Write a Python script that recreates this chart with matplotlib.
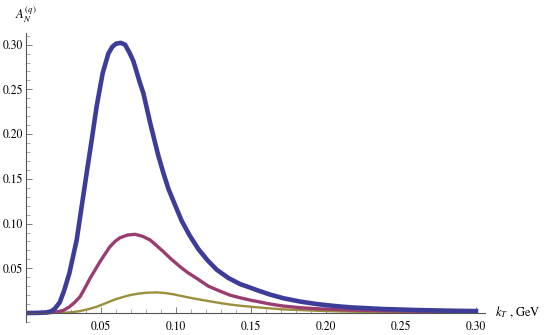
import numpy as np
import matplotlib
matplotlib.use('Agg')
import matplotlib.pyplot as plt
from matplotlib.ticker import MultipleLocator

plt.rcParams['font.family'] = ['STIXGeneral', 'Liberation Serif', 'DejaVu Serif']
plt.rcParams['mathtext.fontset'] = 'stix'

# blue curve (largest)
kt_blue = [0, 0.010, 0.0140, 0.0171, 0.0193, 0.0225, 0.0253, 0.0289, 0.0338, 0.0371, 0.0404,
           0.0438, 0.0471, 0.0511, 0.0549, 0.0575, 0.0600, 0.0631, 0.0660, 0.0690,
           0.0716, 0.0760, 0.0782, 0.0804, 0.0827, 0.0855, 0.0882, 0.0915, 0.0949,
           0.0993, 0.1038, 0.109, 0.1149, 0.1210, 0.1271, 0.1349, 0.1427, 0.149,
           0.1538, 0.163, 0.172, 0.183, 0.194, 0.205, 0.216, 0.238, 0.260, 0.283, 0.300]
a_blue = [0, 0.0003, 0.0008, 0.0022, 0.005, 0.012, 0.0245, 0.0444, 0.0817, 0.119, 0.156,
          0.1935, 0.231, 0.268, 0.290, 0.2975, 0.301, 0.302, 0.300, 0.291,
          0.2815, 0.257, 0.246, 0.230, 0.213, 0.194, 0.176, 0.157, 0.139,
          0.121, 0.103, 0.087, 0.0715, 0.059, 0.0485, 0.0392, 0.0324, 0.0287,
          0.0257, 0.0205, 0.0164, 0.0128, 0.010, 0.008, 0.0064, 0.0045, 0.0034, 0.0026, 0.0022]

# purple curve
kt_purple = [0, 0.015, 0.020, 0.025, 0.029, 0.0325, 0.036, 0.0393, 0.0427, 0.046,
             0.0493, 0.0527, 0.056, 0.0593, 0.0627, 0.0677, 0.0727, 0.0777, 0.0827,
             0.087, 0.0916, 0.097, 0.1027, 0.108, 0.1138, 0.1216, 0.1293, 0.1360,
             0.1427, 0.1493, 0.1549, 0.163, 0.1716, 0.1827, 0.1938, 0.216, 0.238,
             0.260, 0.283, 0.300]
a_purple = [0, 0.0003, 0.001, 0.003, 0.007, 0.012, 0.0182, 0.028, 0.0388, 0.048,
            0.0574, 0.066, 0.0742, 0.080, 0.0842, 0.0872, 0.088, 0.0858, 0.0817,
            0.0755, 0.0686, 0.060, 0.0518, 0.045, 0.0388, 0.030, 0.0245, 0.020,
            0.0171, 0.0145, 0.0127, 0.010, 0.0078, 0.006, 0.0048, 0.0034, 0.0026,
            0.0020, 0.0016, 0.0014]

# gold curve (smallest)
kt_gold = [0, 0.025, 0.031, 0.036, 0.0415, 0.0471, 0.0527, 0.0582, 0.0637, 0.0693,
           0.0748, 0.0804, 0.0871, 0.0927, 0.0982, 0.1038, 0.1093, 0.1155, 0.1216,
           0.1293, 0.1360, 0.1427, 0.1549, 0.163, 0.1716, 0.1827, 0.1938, 0.205,
           0.216, 0.238, 0.260, 0.283, 0.300]
a_gold = [0, 0.0003, 0.001, 0.0022, 0.0043, 0.007, 0.0107, 0.0145, 0.0175, 0.020,
          0.0217, 0.0227, 0.0231, 0.0224, 0.021, 0.019, 0.0171, 0.0152, 0.0134,
          0.0112, 0.0095, 0.0082, 0.0063, 0.0052, 0.0041, 0.0033, 0.0026, 0.002,
          0.0016, 0.0011, 0.0008, 0.0006, 0.0005]

xticks = [0.05, 0.10, 0.15, 0.20, 0.25, 0.30]
xticklabels = ['0.05', '0.10', '0.15', '0.20', '0.25', '0.30']
yticks = [0.05, 0.10, 0.15, 0.20, 0.25, 0.30]
yticklabels = ['0.05', '0.10', '0.15', '0.20', '0.25', '0.30']

fig = plt.figure(figsize=(5.45, 3.35), dpi=100)
ax = fig.add_axes([26/545, 13/335, 459/545, 289/335])

ax.plot(kt_gold, a_gold, color='#998f3d', lw=1.7, solid_joinstyle='round')
ax.plot(kt_purple, a_purple, color='#993d71', lw=2.4, solid_joinstyle='round')
ax.plot(kt_blue, a_blue, color='#3d3d99', lw=3.3, solid_joinstyle='round')

ax.set_xlim(0, 0.306)
ax.set_ylim(-0.01, 0.313)

for s in ['top', 'right']:
    ax.spines[s].set_visible(False)
ax.spines['left'].set_position('zero')
ax.spines['bottom'].set_position('zero')
for s in ['left', 'bottom']:
    ax.spines[s].set_color('#555555')
    ax.spines[s].set_linewidth(0.8)

ax.set_xticks(xticks)
ax.set_xticklabels(xticklabels)
ax.set_yticks(yticks)
ax.set_yticklabels(yticklabels)
ax.xaxis.set_minor_locator(MultipleLocator(0.01))
ax.yaxis.set_minor_locator(MultipleLocator(0.01))
ax.tick_params(which='major', direction='in', length=4.5, width=0.6, color='#666666', labelsize=8.5)
ax.tick_params(which='minor', direction='in', length=2.8, width=0.5, color='#888888')
ax.tick_params(axis='x', which='major', pad=6)
ax.tick_params(axis='y', which='major', pad=2)

fig.text(15/545, 1 - 5/335, r'$A_N^{(q)}$', ha='left', va='top', fontsize=9)
fig.text(495/545, (335-312)/335, r'$k_T$ , GeV', ha='left', va='center', fontsize=9)

fig.savefig('out.png', dpi=100)
